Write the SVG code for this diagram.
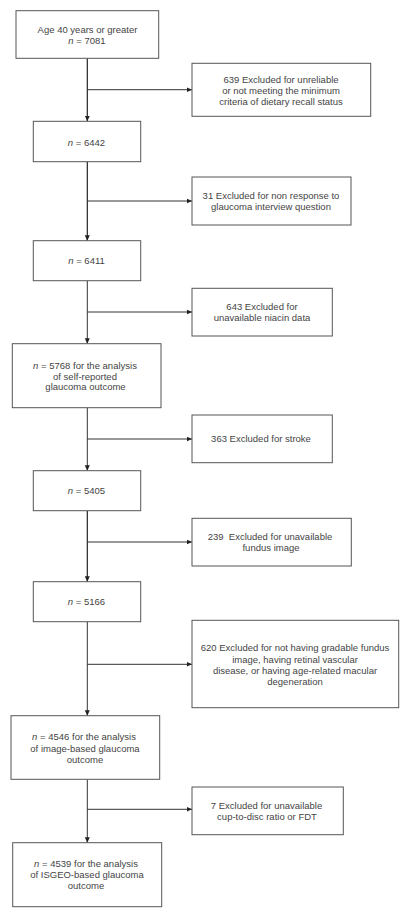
<svg xmlns="http://www.w3.org/2000/svg" width="411" height="919" viewBox="0 0 411 919">
<style>
.box{fill:#fff;stroke:#555;stroke-width:1}
.t{font-family:"Liberation Sans",Arial,sans-serif;font-size:9.5px;fill:#444;text-anchor:middle}
.i{font-style:italic}
.c{stroke:#333;stroke-width:1;fill:none}
</style>
<defs>
<marker id="ah" markerUnits="userSpaceOnUse" markerWidth="6" markerHeight="6" refX="5.5" refY="2.5" orient="auto">
<path d="M0,0 L5.5,2.5 L0,5 z" fill="#222"/>
</marker>
</defs>
<rect width="411" height="919" fill="#fff"/>
<g id="connectors">
<line class="c" x1="87.3" y1="58.3" x2="87.3" y2="121.3" marker-end="url(#ah)" style="stroke:#222;stroke-width:1.2"/>
<line class="c" x1="87.3" y1="89.7" x2="192" y2="89.7" marker-end="url(#ah)"/>
<line class="c" x1="87.3" y1="161.7" x2="87.3" y2="240.7" marker-end="url(#ah)" style="stroke:#222;stroke-width:1.2"/>
<line class="c" x1="87.3" y1="201" x2="192" y2="201" marker-end="url(#ah)"/>
<line class="c" x1="87.3" y1="280.7" x2="87.3" y2="343.7" marker-end="url(#ah)"/>
<line class="c" x1="87.3" y1="312" x2="192" y2="312" marker-end="url(#ah)"/>
<line class="c" x1="87.3" y1="407.7" x2="87.3" y2="470.7" marker-end="url(#ah)"/>
<line class="c" x1="87.3" y1="439" x2="192" y2="439" marker-end="url(#ah)"/>
<line class="c" x1="87.3" y1="510.7" x2="87.3" y2="581.7" marker-end="url(#ah)" style="stroke:#222;stroke-width:1.2"/>
<line class="c" x1="87.3" y1="542" x2="192" y2="542" marker-end="url(#ah)"/>
<line class="c" x1="87.3" y1="621.7" x2="87.3" y2="715.7" marker-end="url(#ah)"/>
<line class="c" x1="87.3" y1="664.3" x2="192" y2="664.3" marker-end="url(#ah)"/>
<line class="c" x1="87.3" y1="779.3" x2="87.3" y2="842.7" marker-end="url(#ah)"/>
<line class="c" x1="87.3" y1="809.3" x2="192" y2="809.3" marker-end="url(#ah)"/>
</g>
<g id="n1">
<rect class="box" x="16" y="10.7" width="142.7" height="47.6"/>
<text class="t" x="87.5" y="32.7">Age 40 years or greater</text>
<text class="t" x="87" y="44.4"><tspan class="i">n</tspan> = 7081</text>
</g>
<g id="e1">
<rect class="box" x="192" y="63.3" width="178.7" height="53"/>
<text class="t" x="281" y="83.4">639 Excluded for unreliable</text>
<text class="t" x="281" y="94.4">or not meeting the minimum</text>
<text class="t" x="281" y="105.4">criteria of dietary recall status</text>
</g>
<g id="n2">
<rect class="box" x="33.3" y="121.3" width="107.4" height="40.4"/>
<text class="t" x="86.5" y="145.7"><tspan class="i">n</tspan> = 6442</text>
</g>
<g id="e2">
<rect class="box" x="192" y="177" width="159" height="48"/>
<text class="t" x="271" y="199">31 Excluded for non response to</text>
<text class="t" x="271" y="210.4">glaucoma interview question</text>
</g>
<g id="n3">
<rect class="box" x="33.3" y="240.7" width="107.4" height="40"/>
<text class="t" x="86.5" y="264.4"><tspan class="i">n</tspan> = 6411</text>
</g>
<g id="e3">
<rect class="box" x="192" y="288.3" width="140.3" height="47.7"/>
<text class="t" x="262" y="310.4">643 Excluded for</text>
<text class="t" x="262" y="321.4">unavailable niacin data</text>
</g>
<g id="n4">
<rect class="box" x="12.3" y="343.7" width="148.7" height="64"/>
<text class="t" x="85" y="368.7"><tspan class="i">n</tspan> = 5768 for the analysis</text>
<text class="t" x="85" y="379.7">of self-reported</text>
<text class="t" x="85.5" y="390.4">glaucoma outcome</text>
</g>
<g id="e4">
<rect class="box" x="192" y="415" width="140.3" height="47.7"/>
<text class="t" x="261" y="442.4">363 Excluded for stroke</text>
</g>
<g id="n5">
<rect class="box" x="33.3" y="470.7" width="107.4" height="40"/>
<text class="t" x="86.5" y="494.4"><tspan class="i">n</tspan> = 5405</text>
</g>
<g id="e5">
<rect class="box" x="192" y="518.3" width="159.3" height="47.7"/>
<text class="t" x="270" y="540.4" xml:space="preserve">239  Excluded for unavailable</text>
<text class="t" x="271" y="551.4">fundus image</text>
</g>
<g id="n6">
<rect class="box" x="33.3" y="581.7" width="107.4" height="40"/>
<text class="t" x="86.5" y="605.4"><tspan class="i">n</tspan> = 5166</text>
</g>
<g id="e6">
<rect class="box" x="192" y="620.3" width="206.7" height="87.4"/>
<text class="t" x="295" y="651.4">620 Excluded for not having gradable fundus</text>
<text class="t" x="295" y="662.7">image, having retinal vascular</text>
<text class="t" x="295" y="673.7">disease, or having age-related macular</text>
<text class="t" x="295" y="684.7">degeneration</text>
</g>
<g id="n7">
<rect class="box" x="11" y="715.7" width="148.7" height="63.6"/>
<text class="t" x="84" y="740.4"><tspan class="i">n</tspan> = 4546 for the analysis</text>
<text class="t" x="85" y="751.7">of image-based glaucoma</text>
<text class="t" x="85" y="762.7">outcome</text>
</g>
<g id="e7">
<rect class="box" x="192" y="787" width="151.3" height="47.7"/>
<text class="t" x="266.5" y="809.4">7 Excluded for unavailable</text>
<text class="t" x="267" y="820.4">cup-to-disc ratio or FDT</text>
</g>
<g id="n8">
<rect class="box" x="12.7" y="842.7" width="149" height="64"/>
<text class="t" x="86" y="867.4"><tspan class="i">n</tspan> = 4539 for the analysis</text>
<text class="t" x="87" y="878.4">of ISGEO-based glaucoma</text>
<text class="t" x="86" y="889.4">outcome</text>
</g>
</svg>
